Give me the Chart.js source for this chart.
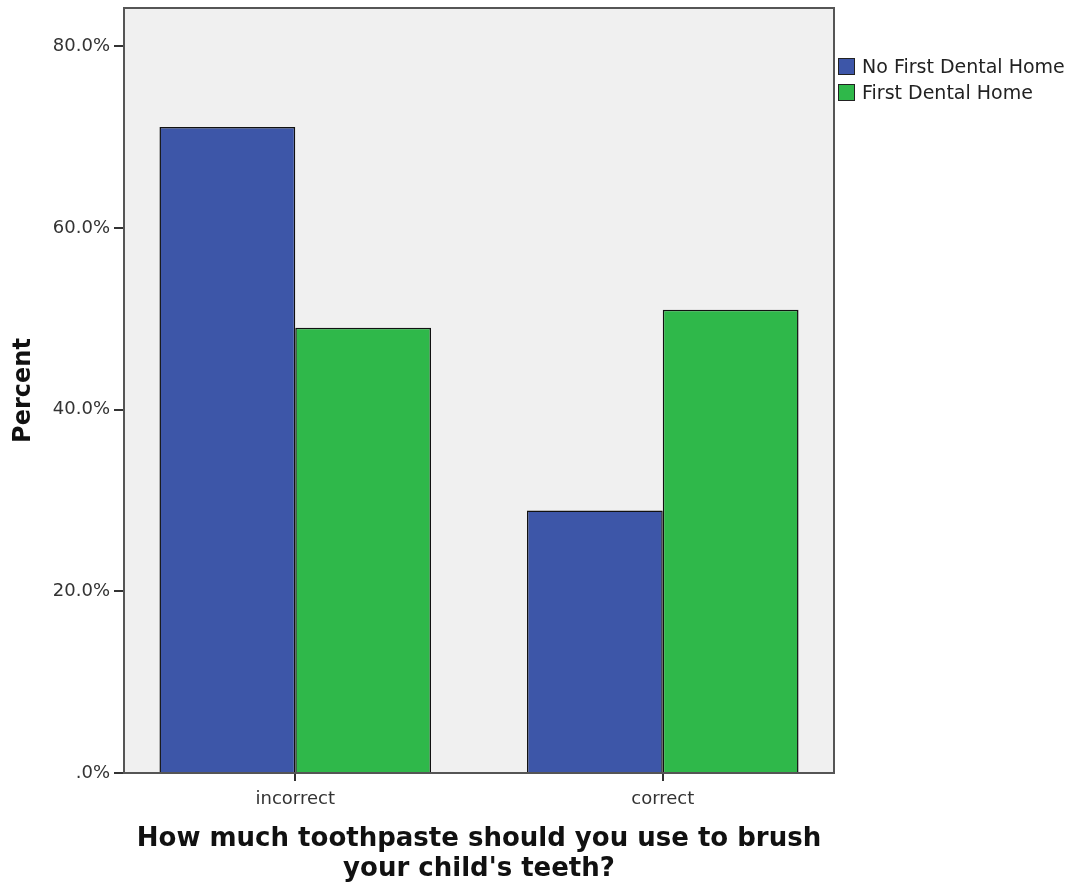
<!DOCTYPE html>
<html>
<head>
<meta charset="utf-8">
<script src="https://cdn.jsdelivr.net/npm/chart.js@4"></script>
<style>
  body { margin: 0; background: #fff; }
  #wrap { position: relative; width: 1075px; height: 886px; }
  #legend { position: absolute; left: 838px; top: 53px; font-family: "DejaVu Sans", sans-serif; font-size: 19px; color: #222; }
  #legend div { display: flex; align-items: center; height: 26px; }
  #legend span.box { width: 15px; height: 15px; border: 1.5px solid #222; margin-right: 7px; }
</style>
</head>
<body>
<div id="wrap">
  <canvas id="chart" width="1075" height="886"></canvas>
  <div id="legend"></div>
</div>
<script>
'use strict';

// chart values
const categories = ['incorrect', 'correct'];
const seriesNames = ['No First Dental Home', 'First Dental Home'];
const noDentalHome = [71.1, 28.9];
const firstDentalHome = [49.0, 51.0];
const yTicks = [0, 20, 40, 60, 80];

const barColors = ['#3d56a8', '#2fb84a'];
// SPSS leaves a bit less than half a category of space at each end
const xEndSpace = 0.466;

// grey plot background + frame
const plotFrame = {
  id: 'plotFrame',
  beforeDraw(chart) {
    const {ctx, chartArea: a} = chart;
    ctx.save();
    ctx.fillStyle = '#f0f0f0';
    ctx.fillRect(a.left, a.top, a.right - a.left, a.bottom - a.top);
    ctx.restore();
  },
  afterDraw(chart) {
    const {ctx, chartArea: a} = chart;
    ctx.save();
    ctx.strokeStyle = '#555';
    ctx.lineWidth = 2;
    ctx.strokeRect(a.left, a.top, a.right - a.left, a.bottom - a.top);
    ctx.restore();
  }
};

const chartData = {
  labels: categories,
  datasets: [
    {
      label: seriesNames[0],
      data: noDentalHome,
      backgroundColor: barColors[0],
      borderColor: '#111',
      borderWidth: 1.5,
    },
    {
      label: seriesNames[1],
      data: firstDentalHome,
      backgroundColor: barColors[1],
      borderColor: '#111',
      borderWidth: 1.5,
    },
  ],
};

const chartConfig = {
  type: 'bar',
  data: chartData,
  options: {
    responsive: false,
    animation: false,
    layout: { padding: { top: 8, right: 241, left: 0, bottom: 0 } },
    datasets: { bar: { categoryPercentage: 0.739, barPercentage: 1 } },
    plugins: {
      legend: { display: false },
      tooltip: { enabled: false },
    },
    scales: {
      x: {
        afterFit(scale) { scale.height = 113; },
        afterBuildTicks(scale) {
          scale._startValue = -xEndSpace;
          scale._valueRange = categories.length - 1 + 2 * xEndSpace;
        },
        grid: { offset: false, drawOnChartArea: false, tickLength: 8, color: '#333', lineWidth: 2 },
        border: { display: false },
        ticks: { color: '#333', padding: 8, font: { family: 'DejaVu Sans', size: 18 } },
        title: {
          display: true,
          text: ['How much toothpaste should you use to brush', "your child's teeth?"],
          color: '#111',
          font: { family: 'DejaVu Sans', size: 26, weight: 'bold', lineHeight: 1.15 },
          padding: { top: 4, bottom: 2 },
        },
      },
      y: {
        min: 0,
        max: 84.2,
        afterFit(scale) {
          scale.width = 124;
          scale.paddingTop = 0;
          scale.paddingBottom = 0;
        },
        afterBuildTicks(scale) { scale.ticks = yTicks.map(v => ({ value: v })); },
        grid: { drawOnChartArea: false, tickLength: 10, color: '#333', lineWidth: 2 },
        border: { display: false },
        ticks: {
          color: '#333',
          padding: 4,
          font: { family: 'DejaVu Sans', size: 18 },
          callback: v => v === 0 ? '.0%' : v.toFixed(1) + '%',
        },
        title: {
          display: true,
          text: 'Percent',
          color: '#111',
          font: { family: 'DejaVu Sans', size: 24, weight: 'bold' },
          padding: { top: 9, bottom: 4 },
        },
      },
    },
  },
  plugins: [plotFrame],
};

const myChart = new Chart(document.getElementById('chart'), chartConfig);

// html legend built from the datasets
const legendElem = document.getElementById('legend');
myChart.data.datasets.forEach(ds => {
  const row = document.createElement('div');
  const box = document.createElement('span');
  box.className = 'box';
  box.style.background = ds.backgroundColor;
  row.appendChild(box);
  row.appendChild(document.createTextNode(ds.label));
  legendElem.appendChild(row);
});
</script>
</body>
</html>
